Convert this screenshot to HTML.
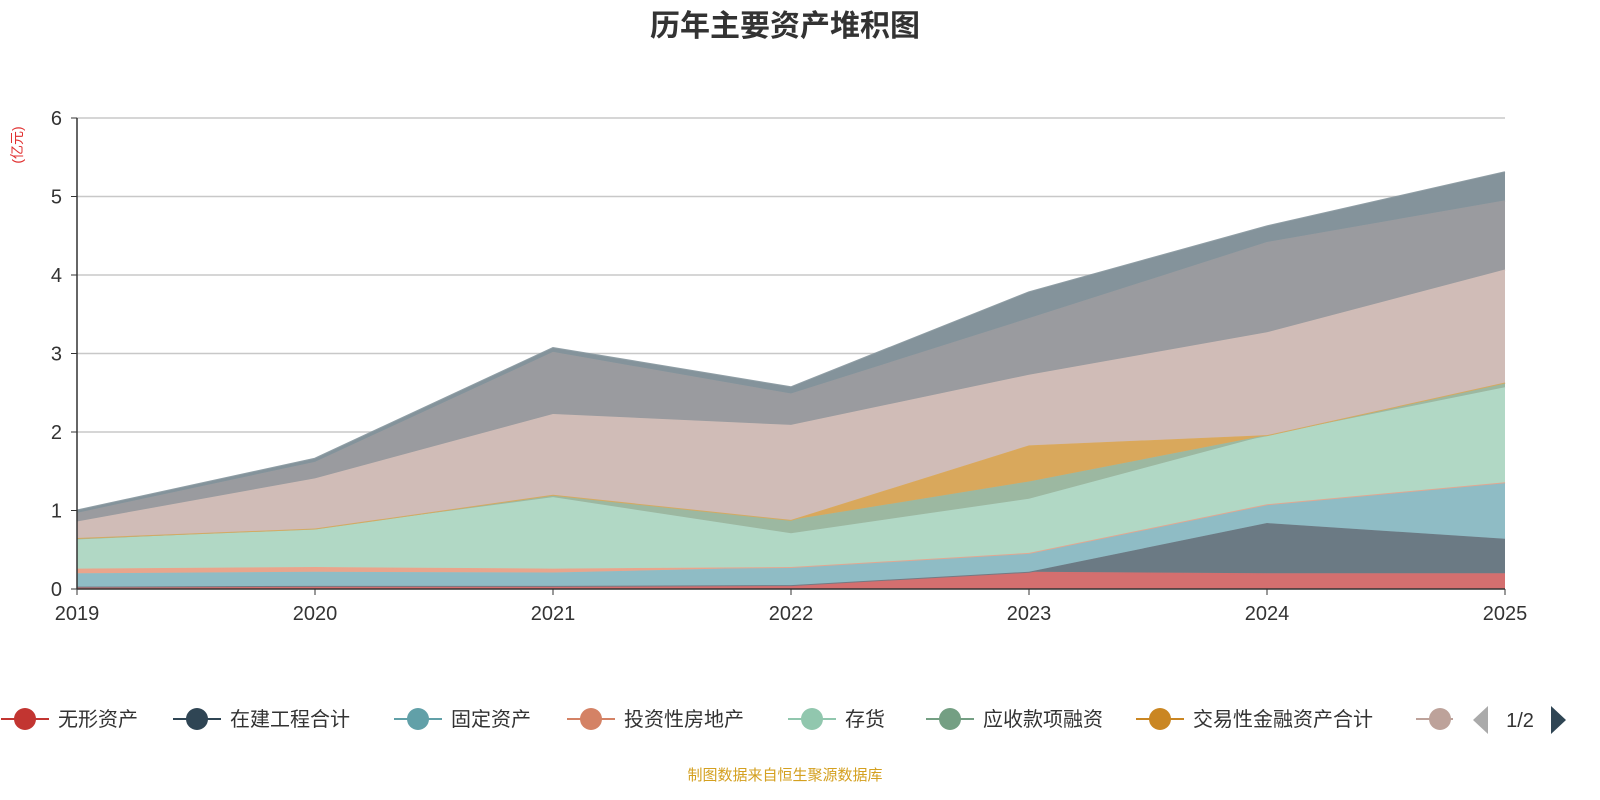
<!DOCTYPE html>
<html><head><meta charset="utf-8"><style>
html,body{margin:0;padding:0;overflow:hidden;width:1600px;height:800px;background:#fff;font-family:"Liberation Sans","Noto Sans CJK SC",sans-serif;}
svg{display:block;}
</style></head><body>
<svg id="c" width="1600" height="800" xmlns="http://www.w3.org/2000/svg">
<text x="785" y="36" text-anchor="middle" font-size="30" font-weight="bold" fill="#333" font-family="Liberation Sans,Noto Sans CJK SC,sans-serif">历年主要资产堆积图</text>
<text x="22" y="145" font-size="14" fill="#e03030" transform="rotate(-90 22 145)" text-anchor="middle" font-family="Liberation Sans,Noto Sans CJK SC,sans-serif">(亿元)</text>
<g id="grid"></g><g id="areas"></g><g id="axes"></g><g id="legend"></g>
<text x="785" y="780" text-anchor="middle" font-size="15" fill="#d4a020" font-family="Liberation Sans,Noto Sans CJK SC,sans-serif">制图数据来自恒生聚源数据库</text>
</svg>
<script>
const years=["2019","2020","2021","2022","2023","2024","2025"];
const yTicks=[0,1,2,3,4,5,6];
const sWuxing=[0.03,0.04,0.04,0.05,0.22,0.20,0.20];
const sZaijian=[0.00,0.00,0.00,0.00,0.00,0.64,0.44];
const sGuding=[0.17,0.18,0.17,0.23,0.24,0.24,0.72];
const sTouzi=[0.06,0.06,0.05,0.00,0.00,0.00,0.00];
const sCunhuo=[0.37,0.49,0.91,0.43,0.69,0.88,1.21];
const sYingshou=[0.02,0.00,0.03,0.17,0.22,0.00,0.06];
const sJiaoyi=[0.00,0.00,0.00,0.00,0.46,0.00,0.00];
const sPink=[0.21,0.64,1.03,1.21,0.90,1.31,1.44];
const sGray=[0.11,0.21,0.79,0.40,0.72,1.15,0.88];
const sSlate=[0.03,0.04,0.05,0.08,0.33,0.20,0.36];
const names=["无形资产","在建工程合计","固定资产","投资性房地产","存货","应收款项融资","交易性金融资产合计","货币资金","应收账款","其他"];
const series=[sWuxing,sZaijian,sGuding,sTouzi,sCunhuo,sYingshou,sJiaoyi,sPink,sGray,sSlate];
const fills=["#d46f6f","#6b7a84","#8fbcc5","#e9a58c","#b1d8c5","#9cb8a1","#d9a85c","#d0bcb7","#9a9b9f","#84939b"];
const lineCols=["#c23531","#2f4554","#61a0a8","#d48265","#91c7ae","#749f83","#ca8622","#bda29a","#6e7074","#546570"];
const NS="http://www.w3.org/2000/svg";
const x0=77,x1=1505,yb=589,yt=118,ymax=6;
const X=i=>x0+(x1-x0)*i/(years.length-1);
const Y=v=>yb-(yb-yt)*v/ymax;
function mk(t,a,p){const e=document.createElementNS(NS,t);for(const k in a)e.setAttribute(k,a[k]);p.appendChild(e);return e;}
const grid=document.getElementById('grid'),axes=document.getElementById('axes'),areas=document.getElementById('areas'),leg=document.getElementById('legend');
yTicks.forEach(v=>{
 if(v>0){const l=mk('line',{x1:x0,x2:x1,y1:Y(v),y2:Y(v),stroke:'#c8c8c8','stroke-width':1.5},grid);
 }
 const t=mk('text',{x:62,y:Y(v)+7,'text-anchor':'end','font-size':20,fill:'#333'},axes);t.textContent=v;
 
 mk('line',{x1:x0-6,x2:x0,y1:Y(v),y2:Y(v),stroke:'#333'},axes);
});
let base=years.map(()=>0);
series.forEach((s,k)=>{
 const top=s.map((v,i)=>base[i]+v);
 let d='M'+years.map((_,i)=>X(i)+','+Y(top[i])).join('L');
 for(let i=years.length-1;i>=0;i--)d+='L'+X(i)+','+Y(base[i]);
 const p=mk('path',{d:d+'Z',fill:fills[k],stroke:'none'},areas);
 
 const l=mk('path',{d:'M'+years.map((_,i)=>X(i)+','+Y(top[i])).join('L'),fill:'none',stroke:fills[k],'stroke-width':2,opacity:0.9},areas);
 
 base=top;
});
mk('line',{x1:x0,x2:x0,y1:yt,y2:yb,stroke:'#333','stroke-width':1.5},axes);
mk('line',{x1:x0,x2:x1,y1:yb,y2:yb,stroke:'#333','stroke-width':1.5},axes);
years.forEach((y,i)=>{
 mk('line',{x1:X(i),x2:X(i),y1:yb,y2:yb+6,stroke:'#333'},axes);
 const t=mk('text',{x:X(i),y:620,'text-anchor':'middle','font-size':20,fill:'#333'},axes);t.textContent=y;
 
});
const lx=[25,197,418,591,812,950,1160,1440];
lx.forEach((x,k)=>{
 const g=mk('g',{},leg);
 
 mk('line',{x1:x-24,x2:x+24,y1:719,y2:719,stroke:lineCols[k],'stroke-width':2},g);
 mk('circle',{cx:x,cy:719,r:11,fill:lineCols[k]},g);
 if(k<7){const t=mk('text',{x:x+33,y:726,'font-size':20,fill:'#333'},g);t.textContent=names[k];}
});
mk('rect',{x:1453,y:700,width:14,height:40,fill:'#fff'},leg);
const pp=mk('polygon',{points:'1488,706 1488,734 1473,720',fill:'#aaa'},leg);

const pt=mk('text',{x:1520,y:727,'text-anchor':'middle','font-size':20,fill:'#333'},leg);pt.textContent='1/2';

const pn=mk('polygon',{points:'1551,706 1551,734 1566,720',fill:'#2f4554'},leg);

</script>
</body></html>
